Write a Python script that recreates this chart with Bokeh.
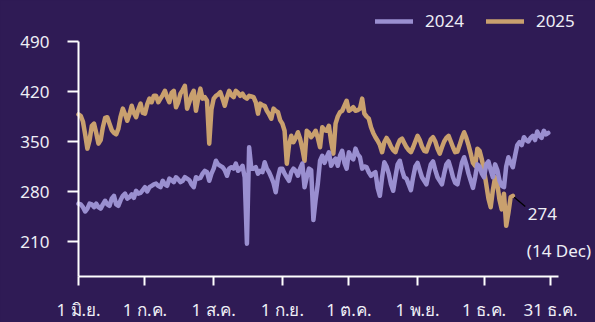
from bokeh.plotting import figure
from bokeh.models import (FixedTicker, Legend, LegendItem, Label, Range1d,
                          ColumnDataSource)
from bokeh.embed import file_html
from bokeh.resources import INLINE

# ---------------- data ----------------
series_names = ["2024", "2025"]

# daily values from 1 Jun (index 0) to 31 Dec (index 213)
values_2024 = [
    263, 262, 258, 252, 256, 263, 262,
    258, 263, 258, 256, 262, 267, 262,
    260, 270, 274, 262, 260, 268, 274,
    277, 270, 272, 276, 271, 281, 277,
    278, 282, 286, 280, 286, 288, 290,
    291, 288, 286, 295, 290, 288, 298,
    296, 293, 300, 297, 293, 295, 300,
    298, 296, 290, 286, 300, 298, 299,
    305, 309, 307, 295, 305, 312, 323,
    318, 316, 314, 310, 302, 312, 314,
    312, 319, 309, 312, 316, 300, 207,
    342, 312, 312, 314, 305, 309, 307,
    321, 312, 307, 300, 292, 279, 300,
    312, 312, 305, 300, 295, 307, 312,
    309, 302, 312, 319, 286, 300, 312,
    310, 240, 268, 291, 323, 330, 320,
    328, 335, 316, 322, 326, 316, 330,
    337, 320, 312, 335, 328, 325, 340,
    332, 328, 312, 315, 314, 307, 302,
    305, 307, 285, 274, 300, 321, 315,
    305, 290, 281, 300, 318, 323, 310,
    300, 298, 290, 282, 300, 315, 320,
    310, 300, 295, 290, 305, 318, 322,
    310, 300, 295, 290, 305, 318, 322,
    312, 300, 292, 290, 305, 320, 328,
    318, 305, 295, 285, 300, 318, 315,
    305, 300, 318, 322, 310, 300, 318,
    310, 295, 288, 286, 315, 328, 320,
    314, 330, 345, 349, 345, 356, 352,
    350, 355, 358, 352, 364, 358, 355,
    365, 360, 362,
]

# daily values from 1 Jun (index 0) to 14 Dec (index 196)
values_2025 = [
    388, 386, 378, 360, 340, 352, 372,
    375, 362, 347, 352, 370, 383, 384,
    375, 366, 362, 360, 368, 385, 396,
    388, 379, 388, 400, 390, 384, 395,
    403, 390, 389, 402, 410, 405, 414,
    414, 405, 410, 415, 421, 412, 405,
    418, 421, 398, 405, 417, 422, 428,
    396, 405, 415, 421, 393, 410, 424,
    410, 412, 407, 347, 395, 410, 414,
    416, 419, 410, 400, 412, 421, 415,
    412, 421, 418, 414, 417, 412, 410,
    414, 413, 412, 405, 389, 403, 401,
    400, 393, 388, 382, 396, 393, 391,
    380, 375, 365, 319, 345, 358, 349,
    355, 363, 354, 340, 323, 365, 362,
    356, 360, 365, 355, 342, 370, 366,
    365, 372, 350, 333, 375, 385, 391,
    393, 400, 407, 393, 395, 398, 393,
    394, 396, 410, 389, 385, 382, 370,
    362, 356, 351, 345, 335, 349, 355,
    350, 343, 338, 335, 345, 352, 354,
    348, 342, 338, 335, 342, 350, 358,
    352, 343, 337, 336, 345, 353, 356,
    350, 340, 333, 342, 350, 355, 358,
    350, 342, 335, 336, 345, 355, 363,
    355, 345, 333, 320, 316, 340, 337,
    325, 310, 290, 270, 258, 282, 300,
    290, 268, 255, 277, 232, 250, 272,
    274,
]
last_label = "(14 Dec)"

tick_days = [0, 30, 61, 92, 122, 153, 183, 213]
tick_labels = ["1 มิ.ย.", "1 ก.ค.", "1 ส.ค.", "1 ก.ย.", "1 ต.ค.", "1 พ.ย.", "1 ธ.ค.", "31 ธ.ค."]
y_ticks = [210, 280, 350, 420, 490]
x_axis_span = (0, 216.6)     # extent of the drawn x axis line (days)
y_axis_span = (161, 490)     # extent of the drawn y axis line

# ---------------- style ----------------
BG = "#2F1B55"
C24 = "#9A8FD0"
C25 = "#C9A06E"
TXT = "#EEEEF5"
FONT = "Noto Sans"

# the frame covers the whole canvas; axes are pinned inside it
p = figure(width=595, height=322, output_backend="svg", toolbar_location=None,
           x_range=Range1d(-35.2, 233.3), y_range=Range1d(96.6, 547.4),
           min_border=0)
p.background_fill_color = BG
p.border_fill_color = BG
p.outline_line_color = None
p.grid.visible = False

src24 = ColumnDataSource(dict(x=list(range(len(values_2024))), y=values_2024))
src25 = ColumnDataSource(dict(x=list(range(len(values_2025))), y=values_2025))

r25 = p.line("x", "y", source=src25, line_color=C25, line_width=4.5,
             line_join="round", line_cap="round")
r24 = p.line("x", "y", source=src24, line_color=C24, line_width=4.5,
             line_join="round", line_cap="round")

# axes
for ax in (p.xaxis[0], p.yaxis[0]):
    ax.axis_line_color = "white"
    ax.axis_line_width = 2
    ax.major_tick_line_color = "white"
    ax.major_tick_line_width = 2
    ax.minor_tick_line_color = None
    ax.major_tick_in = 0
    ax.major_label_text_color = TXT
    ax.major_label_text_font = FONT
    ax.major_label_text_font_size = "17px"

xa = p.xaxis[0]
xa.ticker = FixedTicker(ticks=tick_days)
xa.major_label_overrides = {d: l for d, l in zip(tick_days, tick_labels)}
xa.major_tick_out = 9
xa.major_label_standoff = 12
xa.fixed_location = y_axis_span[0]
xa.bounds = x_axis_span

ya = p.yaxis[0]
ya.ticker = FixedTicker(ticks=y_ticks)
ya.major_tick_out = 11
ya.major_label_standoff = 18
ya.fixed_location = x_axis_span[0]
ya.bounds = y_axis_span

# legend (bottom-left corner given in screen px from the frame's bottom-left)
legend = Legend(items=[LegendItem(label=series_names[0], renderers=[r24]),
                       LegendItem(label=series_names[1], renderers=[r25])],
                orientation="horizontal", location=(375, 290),
                background_fill_alpha=0, border_line_alpha=0,
                label_text_color=TXT, label_text_font=FONT,
                label_text_font_size="17px", glyph_width=38, glyph_height=20,
                label_height=20, label_standoff=12, spacing=22, padding=0,
                margin=0)
p.add_layout(legend, "center")

# annotation of last 2025 value
last_x = len(values_2025) - 1
last_y = values_2025[-1]
p.segment(x0=[last_x + 0.6], y0=[last_y - 2], x1=[last_x + 5.6], y1=[last_y - 15],
          line_color="black", line_width=1.3)
p.add_layout(Label(x=last_x, y=last_y, text=str(last_y), x_offset=15, y_offset=-12,
                   text_baseline="top", text_color=TXT, text_font=FONT,
                   text_font_size="17px"))
p.add_layout(Label(x=last_x, y=last_y, text=last_label, x_offset=14, y_offset=-43,
                   text_baseline="top", text_color=TXT, text_font=FONT,
                   text_font_size="17px"))

html = file_html(p, INLINE, title="chart")
html = html.replace("<head>", "<head><style>body{background:%s;}</style>" % BG, 1)
open("out.html", "w").write(html)
